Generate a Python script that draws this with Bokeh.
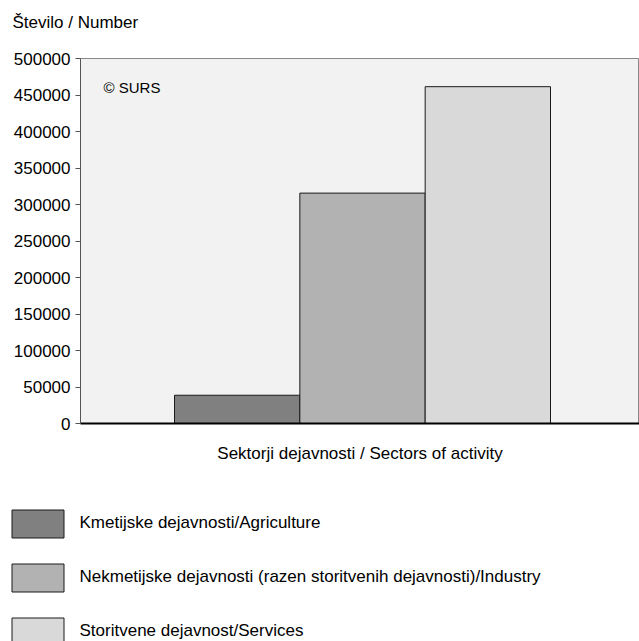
from bokeh.plotting import figure
from bokeh.layouts import column
from bokeh.models import ColumnDataSource, Range1d, Label, Legend, LegendItem, FixedTicker, BasicTickFormatter
from bokeh.embed import file_html
from bokeh.resources import INLINE

# ---- data ----
sectors = ["Kmetijske dejavnosti/Agriculture",
           "Nekmetijske dejavnosti (razen storitvenih dejavnosti)/Industry",
           "Storitvene dejavnost/Services"]
counts = [38700, 315600, 461400]
colors = ["#808080", "#b2b2b2", "#d9d9d9"]
y_ticks = [0, 50000, 100000, 150000, 200000, 250000, 300000, 350000, 400000, 450000, 500000]
y_title = "Število / Number"
x_title = "Sektorji dejavnosti / Sectors of activity"
source_note = "© SURS"

FONT = "Liberation Sans"

src = ColumnDataSource(dict(x=list(range(len(sectors))), top=counts, color=colors, label=sectors))


def blank_fig(height):
    f = figure(width=639, height=height, output_backend="svg", toolbar_location=None,
               x_axis_location=None, y_axis_location=None,
               min_border_left=0, min_border_right=0, min_border_top=0, min_border_bottom=0)
    f.outline_line_color = None
    f.xgrid.visible = False
    f.ygrid.visible = False
    return f


# ---------------- title strip ----------------
tf = blank_fig(40)
tf.add_layout(Label(x=12, y=18, x_units="screen", y_units="screen", text=y_title,
                    text_font=FONT, text_font_size="17px", text_color="#000000",
                    text_baseline="alphabetic"))

# ---------------- main chart ----------------
p = figure(width=639, height=435, output_backend="svg", toolbar_location=None,
           x_range=Range1d(-0.5 - 0.75, len(sectors) - 0.5 + 0.71),
           y_range=Range1d(0, 500000),
           min_border_left=80, min_border_right=0, min_border_top=18, min_border_bottom=52)

r = p.vbar(x="x", top="top", width=1.0, bottom=0, fill_color="color", line_color="#1a1a1a",
           line_width=1, source=src)

p.background_fill_color = "#f2f2f2"
p.border_fill_color = "white"
p.outline_line_color = "#888888"
p.outline_line_width = 1
p.xgrid.visible = False
p.ygrid.visible = False
p.title.visible = False

p.yaxis.ticker = FixedTicker(ticks=y_ticks)
p.yaxis.formatter = BasicTickFormatter(use_scientific=False)
p.yaxis.major_label_text_font = FONT
p.yaxis.major_label_text_font_size = "17px"
p.yaxis.major_label_text_color = "#000000"
p.yaxis.major_tick_out = 5
p.yaxis.major_tick_in = 0
p.yaxis.minor_tick_out = 0
p.yaxis.minor_tick_in = 0
p.yaxis.axis_line_color = "#555555"
p.yaxis.major_tick_line_color = "#555555"
p.yaxis.major_label_standoff = 5

p.xaxis.ticker = FixedTicker(ticks=[])
p.xaxis.major_tick_out = 0
p.xaxis.major_tick_in = 0
p.xaxis.minor_tick_out = 0
p.xaxis.minor_tick_in = 0
p.xaxis.axis_line_color = "#000000"
p.xaxis.axis_line_width = 2
p.xaxis.axis_label = x_title
p.xaxis.axis_label_text_font = FONT
p.xaxis.axis_label_text_font_size = "17px"
p.xaxis.axis_label_text_font_style = "normal"
p.xaxis.axis_label_text_color = "#000000"
p.xaxis.axis_label_standoff = 20

p.add_layout(Label(x=23, y=336, x_units="screen", y_units="screen", text=source_note,
                   text_font=FONT, text_font_size="15px", text_color="#000000",
                   text_baseline="middle"))

# ---------------- legend panel ----------------
lg = blank_fig(166)
lr = lg.vbar(x="x", top="top", width=1.0, bottom=0, fill_color="color", line_color="#1a1a1a",
             line_width=1, source=src)
lr.visible = False

items = [LegendItem(label=s, renderers=[lr], index=i) for i, s in enumerate(sectors)]
legend = Legend(items=items, location=(4.5, -7.5), orientation="vertical",
                glyph_width=65, glyph_height=35, spacing=19, padding=0, margin=0,
                label_standoff=10, label_height=35,
                label_text_font=FONT, label_text_font_size="17px", label_text_color="#000000",
                border_line_color=None, background_fill_alpha=0)
lg.add_layout(legend, "center")

for fig in (tf, p, lg):
    if "frame_align" in fig.properties():
        fig.frame_align = False

layout = column(tf, p, lg, spacing=0)
open("out.html", "w").write(file_html(layout, INLINE))
